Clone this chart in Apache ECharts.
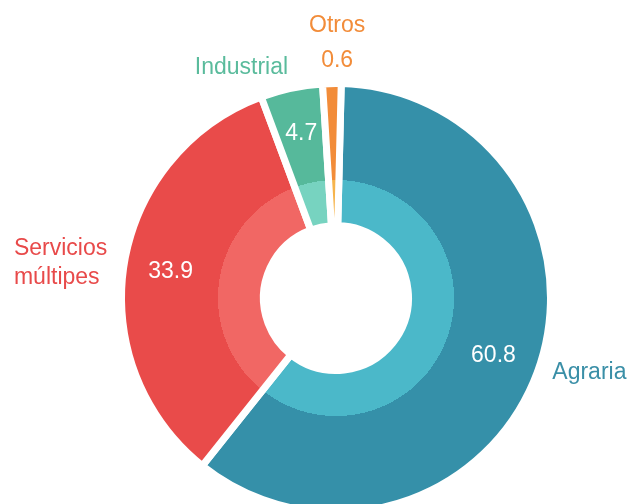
<!DOCTYPE html>
<html><head><meta charset="utf-8">
<script src="https://cdn.jsdelivr.net/npm/echarts@6/dist/echarts.min.js"></script>
<style>html,body{margin:0;padding:0;background:#fff}#c{width:632px;height:504px}</style>
</head><body><div id="c"></div>
<script>
// ---- data ----
const categories = ['Agraria', 'Servicios múltipes', 'Industrial', 'Otros'];
const values = [60.8, 33.9, 4.7, 0.6];

// ---- styles ----
const outerColors = ['#3590a9', '#e94b4a', '#56b99b', '#f28c39'];
const innerColors = ['#4bb8c9', '#f16764', '#77d3c0', '#f6b44c'];
const labelColors = ['#3a8fa7', '#e84a4a', '#5abb9c', '#f28c39'];
const FONT = '"Liberation Sans", Arial, Helvetica, sans-serif';

const CX = 336, CY = 298, R_OUT = 211, R_MID = 118, R_HOLE = 76, GAP = 7;
const START = 88.6, MIN_ANGLE = 5;
// label line geometry (not drawn) per slice: [length, length2, distance]
const labelGeom = [[5, 5, 5], [5, 7, 5], [21, 0, -1], [40, 0, -6]];

const rOuter = R_OUT + GAP / 2;
function ringGradient(i) {
  const s = R_MID / rOuter;
  return {
    type: 'radial', x: CX, y: CY, r: rOuter, global: true,
    colorStops: [
      { offset: 0, color: innerColors[i] },
      { offset: s, color: innerColors[i] },
      { offset: s, color: outerColors[i] },
      { offset: 1, color: outerColors[i] }
    ]
  };
}

const chart = echarts.init(document.getElementById('c'), null, { renderer: 'canvas' });
chart.setOption({
  animation: false,
  backgroundColor: '#ffffff',
  series: [
    {
      type: 'pie',
      center: [CX, CY],
      radius: [R_HOLE - GAP / 2, rOuter],
      startAngle: START,
      minAngle: MIN_ANGLE,
      clockwise: true,
      avoidLabelOverlap: false,
      silent: true,
      itemStyle: { borderColor: '#ffffff', borderWidth: GAP, borderJoin: 'round' },
      label: {
        show: true,
        position: 'outside',
        fontFamily: FONT,
        fontSize: 23,
        formatter: function (p) {
          if (p.dataIndex === 3) return '{c|' + p.name + '}\n{c|' + p.value + '}';
          return p.name.split(' ').map(function (s) { return '{l|' + s + '}'; }).join('\n');
        },
        rich: {
          l: { align: 'left', fontFamily: FONT, fontSize: 23, lineHeight: 29 },
          c: { align: 'center', fontFamily: FONT, fontSize: 23, lineHeight: 35 }
        }
      },
      labelLine: { show: false },
      labelLayout: function (p) {
        return p.dataIndex === 3 ? { align: 'center' } : {};
      },
      data: categories.map(function (name, i) {
        return {
          name: name,
          value: values[i],
          itemStyle: { color: ringGradient(i) },
          label: { color: labelColors[i], distanceToLabelLine: labelGeom[i][2] },
          labelLine: { show: false, length: labelGeom[i][0], length2: labelGeom[i][1] }
        };
      })
    },
    {
      type: 'pie',
      center: [CX, CY],
      radius: [R_MID, R_OUT],
      startAngle: START,
      minAngle: MIN_ANGLE,
      clockwise: true,
      avoidLabelOverlap: false,
      silent: true,
      itemStyle: { color: 'rgba(0,0,0,0)' },
      label: {
        show: true,
        position: 'inside',
        color: '#ffffff',
        fontFamily: FONT,
        fontSize: 23,
        formatter: '{c}'
      },
      labelLine: { show: false },
      data: categories.map(function (name, i) {
        return { name: name, value: values[i], label: { show: i !== 3 } };
      })
    }
  ]
});
</script>
</body></html>
